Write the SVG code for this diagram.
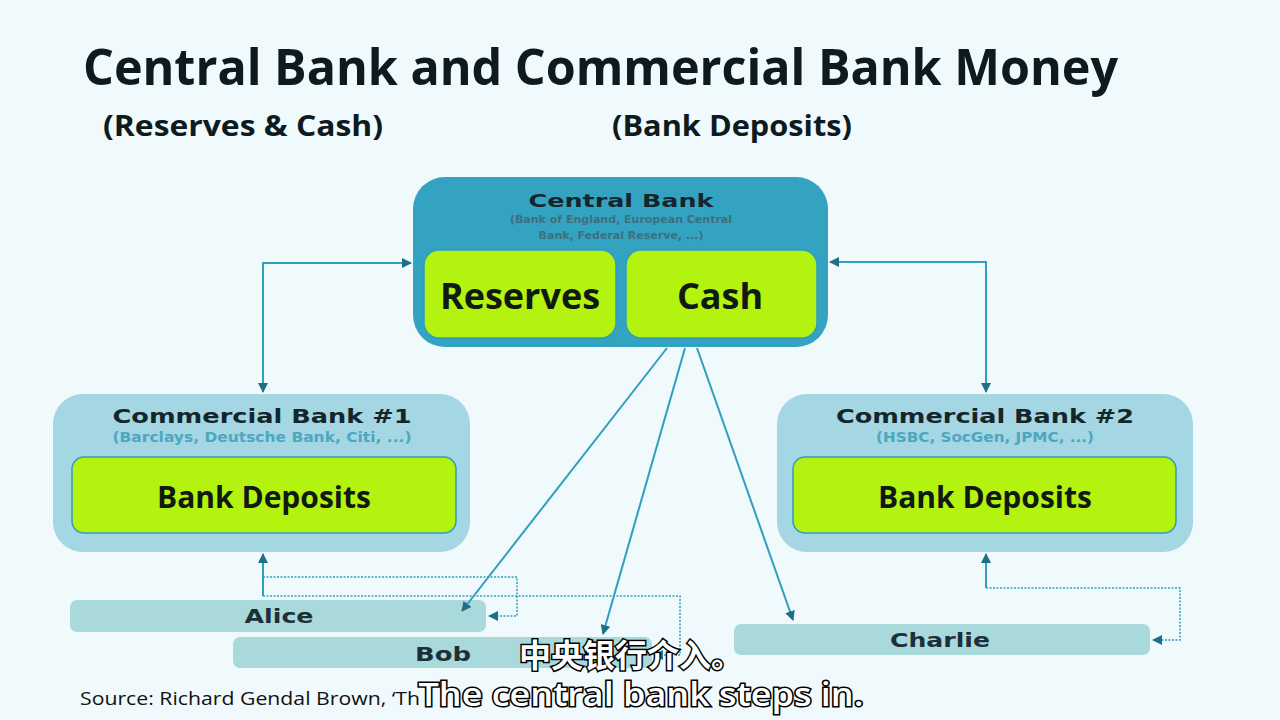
<svg xmlns="http://www.w3.org/2000/svg" width="1280" height="720" viewBox="0 0 1280 720">
  <defs>
    <style>
      .heading { font-family: "Open Sans", "Liberation Sans", sans-serif; font-weight: 700; fill: #0d1a1e; }
      .boxtitle { font-family: "DejaVu Sans", "Liberation Sans", sans-serif; font-weight: 700; fill: #14262c; text-anchor: middle; }
      .boxsub { font-family: "DejaVu Sans", "Liberation Sans", sans-serif; font-weight: 700; text-anchor: middle; }
      .big { font-family: "Open Sans", "Liberation Sans", sans-serif; font-weight: 700; fill: #111a12; text-anchor: middle; }
      .person { font-family: "DejaVu Sans", "Liberation Sans", sans-serif; font-weight: 700; fill: #1b3038; text-anchor: middle; font-size: 20px; }
      .green { fill: #b3f30f; stroke: #2d9fbd; stroke-width: 1.5; }
      .outer { fill: #a4d6e3; }
      .pill { fill: #a9d9da; }
      .link { fill: none; stroke: #2f9fbe; stroke-width: 2; }
      .dotted { fill: none; stroke: #2f9fbe; stroke-width: 1.5; stroke-dasharray: 2 1.5; }
      .caption { font-family: "Open Sans", "Noto Sans CJK SC", sans-serif; font-weight: 600; fill: #ffffff; stroke: #000000; stroke-width: 3; paint-order: stroke; }
    </style>
    <marker id="arrow" viewBox="0 0 10 10" refX="9" refY="5" markerWidth="10" markerHeight="10" markerUnits="userSpaceOnUse" orient="auto">
      <path d="M0,0 L10,5 L0,10 z" fill="#1f6f86"/>
    </marker>
    <marker id="arrowStart" viewBox="0 0 10 10" refX="1" refY="5" markerWidth="10" markerHeight="10" markerUnits="userSpaceOnUse" orient="auto">
      <path d="M10,0 L0,5 L10,10 z" fill="#1f6f86"/>
    </marker>
  </defs>

  <rect x="0" y="0" width="1280" height="720" fill="#f0f9fb"/>

  <!-- headings -->
  <g id="title">
    <text class="heading" x="83" y="85" font-size="50" textLength="1035" lengthAdjust="spacingAndGlyphs">Central Bank and Commercial Bank Money</text>
    <text class="heading" x="103" y="136" font-size="29" textLength="280" lengthAdjust="spacingAndGlyphs">(Reserves  &amp; Cash)</text>
    <text class="heading" x="612" y="136" font-size="29" textLength="240" lengthAdjust="spacingAndGlyphs">(Bank Deposits)</text>
  </g>

  <!-- central bank -->
  <g id="central-bank">
    <rect x="413" y="177" width="415" height="170" rx="32" fill="#34a3c1"/>
    <text class="boxtitle" x="621" y="207" font-size="18" textLength="185" lengthAdjust="spacingAndGlyphs">Central Bank</text>
    <text class="boxsub" x="621" y="223" font-size="11" fill="#3d6f7c">(Bank of England, European Central</text>
    <text class="boxsub" x="621" y="239" font-size="11" fill="#3d6f7c">Bank, Federal Reserve, ...)</text>
    <g id="reserves">
      <rect class="green" x="424" y="250" width="192" height="88" rx="15"/>
      <text class="big" x="520" y="309" font-size="36">Reserves</text>
    </g>
    <g id="cash">
      <rect class="green" x="626" y="250" width="191" height="88" rx="15"/>
      <text class="big" x="720" y="309" font-size="36">Cash</text>
    </g>
  </g>

  <!-- commercial bank 1 -->
  <g id="commercial-bank-1">
    <rect class="outer" x="53" y="394" width="417" height="158" rx="30"/>
    <text class="boxtitle" x="262" y="423" font-size="19" textLength="299" lengthAdjust="spacingAndGlyphs">Commercial Bank #1</text>
    <text class="boxsub" x="262" y="442" font-size="14" fill="#4ea7c0" textLength="299" lengthAdjust="spacingAndGlyphs">(Barclays, Deutsche Bank, Citi, ...)</text>
    <rect class="green" x="72" y="457" width="384" height="76" rx="12"/>
    <text class="big" x="264" y="508" font-size="30">Bank Deposits</text>
  </g>

  <!-- commercial bank 2 -->
  <g id="commercial-bank-2">
    <rect class="outer" x="777" y="394" width="416" height="158" rx="30"/>
    <text class="boxtitle" x="985" y="423" font-size="19" textLength="298" lengthAdjust="spacingAndGlyphs">Commercial Bank #2</text>
    <text class="boxsub" x="985" y="442" font-size="14" fill="#4ea7c0" textLength="218" lengthAdjust="spacingAndGlyphs">(HSBC, SocGen, JPMC, ...)</text>
    <rect class="green" x="793" y="457" width="383" height="76" rx="12"/>
    <text class="big" x="985" y="508" font-size="30">Bank Deposits</text>
  </g>

  <!-- customers -->
  <g id="alice">
    <rect class="pill" x="70" y="600" width="416" height="32" rx="7"/>
    <text class="person" x="279" y="623" textLength="69" lengthAdjust="spacingAndGlyphs">Alice</text>
  </g>
  <g id="bob">
    <rect class="pill" x="233" y="637" width="419" height="31" rx="7"/>
    <text class="person" x="443" y="661" textLength="56" lengthAdjust="spacingAndGlyphs">Bob</text>
  </g>
  <g id="charlie">
    <rect class="pill" x="734" y="624" width="416" height="31" rx="7"/>
    <text class="person" x="940" y="647" textLength="100" lengthAdjust="spacingAndGlyphs">Charlie</text>
  </g>

  <!-- connectors -->
  <g id="connectors">
    <polyline class="link" points="263,392 263,263 411,263" marker-start="url(#arrowStart)" marker-end="url(#arrow)"/>
    <polyline class="link" points="830,262 986,262 986,392" marker-start="url(#arrowStart)" marker-end="url(#arrow)"/>
    <line class="link" x1="667" y1="348" x2="462" y2="611" marker-end="url(#arrow)"/>
    <line class="link" x1="685" y1="348" x2="603" y2="634" marker-end="url(#arrow)"/>
    <line class="link" x1="697" y1="348" x2="793" y2="620" marker-end="url(#arrow)"/>
    <line class="link" x1="263" y1="596" x2="263" y2="554" marker-end="url(#arrow)"/>
    <polyline class="dotted" points="263,577 517,577 517,616 489,616" marker-end="url(#arrow)"/>
    <polyline class="dotted" points="263,596 680,596 680,655 654,655" marker-end="url(#arrow)"/>
    <line class="link" x1="986" y1="588" x2="986" y2="554" marker-end="url(#arrow)"/>
    <polyline class="dotted" points="986,588 1180,588 1180,640 1153,640" marker-end="url(#arrow)"/>
  </g>

  <!-- source line -->
  <text x="80" y="705" font-family="Open Sans, Liberation Sans, sans-serif" font-size="19" fill="#111" textLength="340" lengthAdjust="spacingAndGlyphs">Source: Richard Gendal Brown, ‘Th</text>

  <!-- captions -->
  <g id="captions">
    <text class="caption" x="631" y="667" font-size="32" text-anchor="middle" font-family="Noto Sans CJK SC, sans-serif">中央银行介入。</text>
    <text class="caption" x="641" y="706" font-size="32" text-anchor="middle" textLength="445" lengthAdjust="spacingAndGlyphs">The central bank steps in.</text>
  </g>
</svg>
